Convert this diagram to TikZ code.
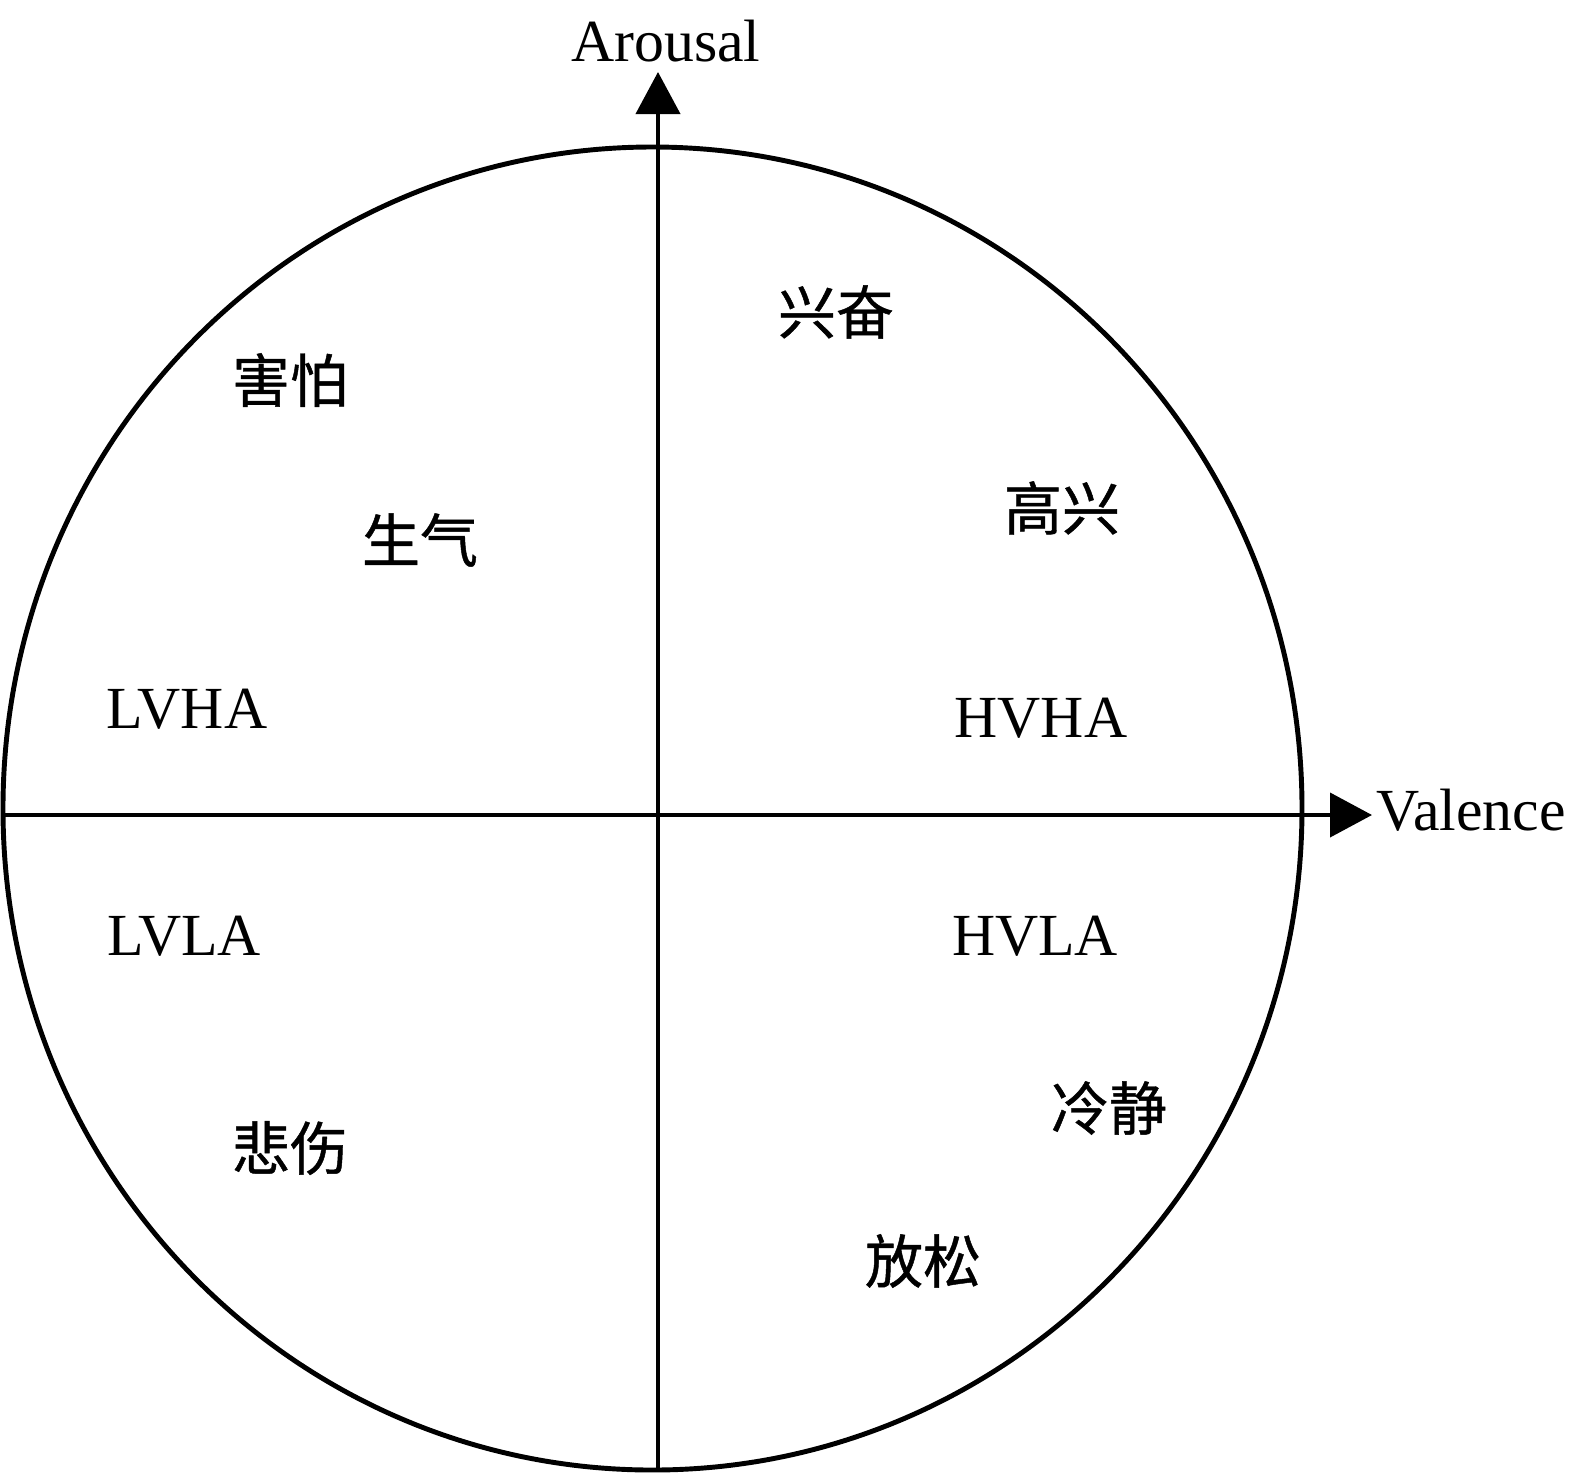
\documentclass[tikz,border=0pt]{standalone}
\usepackage{fontspec}
\setmainfont{Liberation Serif}
\newfontfamily\cjk[FakeBold=0.8]{Noto Sans CJK SC}
\usetikzlibrary{arrows.meta}

\begin{document}
\begin{tikzpicture}[
        en/.style={inner sep=0pt, anchor=base, font=\fontsize{17}{20}\selectfont},
        zh/.style={inner sep=0pt, font=\cjk\fontsize{16.5}{20}\selectfont},
        axis/.style={line width=1.15pt, -{Triangle[length=4.2mm, width=4.4mm]}}
    ]
            \useasboundingbox (-6.58,-6.59) rectangle (9.13,8.15);

            % 圆
            \draw[line width=1.4pt] (-0.055,0.065) ellipse (6.495 and 6.615);

            % 坐标轴的端点
            \coordinate (o) at (0,0);
            \coordinate (vl) at (-6.55,0);
            \coordinate (vr) at (7.14,0);
            \coordinate (ab) at (0,-6.55);
            \coordinate (at) at (0,7.43);

            % 绘制坐标轴
            \draw[axis] (vl) -- (vr);
            \draw[axis] (ab) -- (at);
            \node[en, anchor=base west] (valence) at (7.18,-0.15) {Valence};
            \node[en] (arousal) at (0.08,7.54) {Arousal};

            % 四个象限
            \node[en] (lvha) at (-4.71,0.87) {LVHA};
            \node[en] (hvha) at (3.83,0.78) {HVHA};
            \node[en] (lvla) at (-4.74,-1.40) {LVLA};
            \node[en] (hvla) at (3.77,-1.40) {HVLA};

            % 情绪
            \node[zh] (fear) at (-3.68,4.35) {害怕};
            \node[zh] (angry) at (-2.38,2.75) {生气};
            \node[zh] (excited) at (1.78,5.03) {兴奋};
            \node[zh] (happy) at (4.04,3.07) {高兴};
            \node[zh] (sad) at (-3.68,-3.33) {悲伤};
            \node[zh] (calm) at (4.51,-2.93) {冷静};
            \node[zh] (relaxed) at (2.65,-4.46) {放松};

        \end{tikzpicture}
\end{document}
